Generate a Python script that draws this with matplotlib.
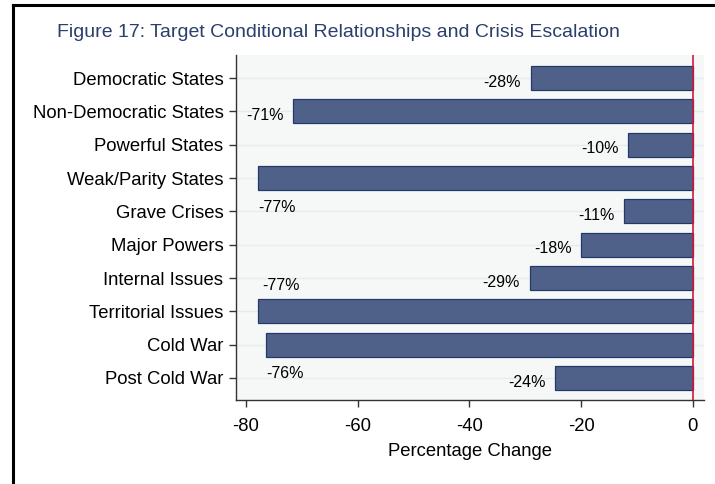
import numpy as np
import matplotlib.pyplot as plt
from matplotlib.lines import Line2D

plt.rcParams['font.family'] = ['Liberation Sans', 'DejaVu Sans']

# 데이터
categories = ['Democratic States', 'Non-Democratic States', 'Powerful States',
              'Weak/Parity States', 'Grave Crises', 'Major Powers',
              'Internal Issues', 'Territorial Issues', 'Cold War', 'Post Cold War']
values = [-29.0, -71.5, -11.6, -77.8, -12.3, -20.0, -29.2, -77.8, -76.4, -24.6]
labels = ['-28%', '-71%', '-10%', '-77%', '-11%', '-18%', '-29%', '-77%', '-76%', '-24%']
# 라벨 위치: 'left' = 막대 왼쪽, 'below'/'above' = 막대 아래/위
label_pos = ['left', 'left', 'left', 'below', 'left', 'left', 'left', 'above', 'below', 'left']
xticks = [-80, -60, -40, -20, 0]

fig = plt.figure(figsize=(7.15, 4.84), dpi=100)
ax = fig.add_axes([0.330, 0.1736, 0.6546, 0.7124])
ax.set_facecolor('#f6f8f8')

y = np.arange(len(categories))
ax.barh(y, values, height=0.72, color='#506189', edgecolor='#23396a', linewidth=0.9, zorder=3)

# 가로 격자선
for yi in y:
    ax.axhline(yi, color='#e3edef', linewidth=1.0, zorder=1)

# 0 기준선
ax.axvline(0, color='#cc1a3e', linewidth=1.2, zorder=4)

for yi, v, lab, pos in zip(y, values, labels, label_pos):
    if pos == 'left':
        ax.annotate(lab, (v, yi), xytext=(-7, -3), textcoords='offset points',
                    ha='right', va='center', fontsize=11.5, color='black')
    elif pos == 'below':
        ax.annotate(lab, (v, yi + 0.88), xytext=(0, 0), textcoords='offset points',
                    ha='left', va='center', fontsize=11.5, color='black')
    else:
        ax.annotate(lab, (v, yi - 0.78), xytext=(3, 0), textcoords='offset points',
                    ha='left', va='center', fontsize=11.5, color='black')

ax.set_xlim(-81.8, 2.0)
ax.set_ylim(9.66, -0.69)
ax.set_yticks(y)
ax.set_yticklabels(categories, fontsize=13.3)
ax.set_xticks(xticks)
ax.set_xticklabels([str(t) for t in xticks], fontsize=13.3)
ax.set_xlabel('Percentage Change', fontsize=13.3, labelpad=6)

for s in ['top', 'right']:
    ax.spines[s].set_visible(False)
for s in ['left', 'bottom']:
    ax.spines[s].set_color('#333333')
    ax.spines[s].set_linewidth(1.0)
ax.tick_params(axis='both', colors='#333333', length=5, width=1.0, labelcolor='black')
ax.tick_params(axis='y', pad=4)
ax.tick_params(axis='x', pad=8)

fig.text(57 / 715, 1 - 33 / 484, 'Figure 17: Target Conditional Relationships and Crisis Escalation',
         fontsize=14, color='#2b3f6c', ha='left', va='center')

# 그림 테두리 (위, 왼쪽)
fig.add_artist(Line2D([12.5 / 715, 12.5 / 715], [0, 1 - 5 / 484], color='black', linewidth=2.2,
                      transform=fig.transFigure))
fig.add_artist(Line2D([12.5 / 715, 1], [1 - 5 / 484, 1 - 5 / 484], color='black', linewidth=2.2,
                      transform=fig.transFigure))

fig.savefig('out.png', dpi=100)
